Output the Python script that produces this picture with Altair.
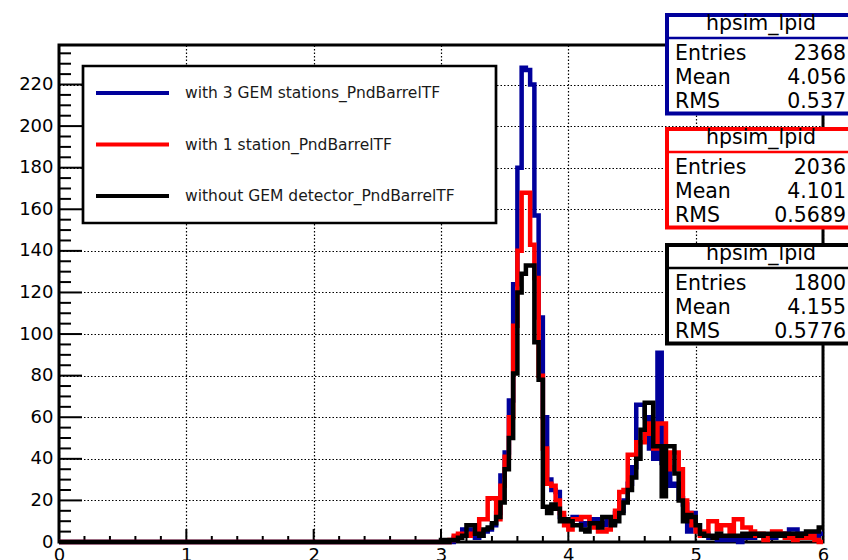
import altair as alt
import numpy as np
import pandas as pd

# Histogram binning: 180 bins of width 1/30 over [0, 6]; only bins from 3.0 up are filled
N_BINS = 180
BIN_WIDTH = 6.0 / N_BINS
FIRST_FILLED_BIN = 90

# Bin contents from x = 3.0 to x = 6.0 (90 bins each)
counts_3gem = [
    0, 0, 0, 2, 3, 6, 6, 5, 2, 3,
    5, 6, 8, 14, 32, 43, 68, 124, 180, 228,
    227, 220, 157, 108, 60, 30, 25, 24, 12, 10,
    8, 12, 11, 8, 9, 11, 11, 9, 8, 10,
    9, 14, 15, 20, 28, 36, 66, 66, 60, 45,
    40, 91, 38, 36, 27, 28, 21, 18, 5, 14,
    8, 4, 4, 2, 2, 1, 2, 1, 2, 1,
    0, 3, 2, 2, 3, 3, 2, 3, 2, 3,
    3, 4, 6, 6, 3, 4, 3, 4, 3, 4,
]
counts_1station = [
    0, 0, 1, 3, 4, 3, 3, 4, 5, 11,
    11, 21, 21, 11, 27, 41, 60, 104, 140, 168,
    168, 143, 127, 80, 45, 28, 27, 20, 14, 8,
    6, 11, 11, 12, 12, 9, 7, 5, 5, 6,
    11, 15, 24, 25, 42, 42, 48, 48, 52, 57,
    45, 57, 57, 35, 43, 43, 35, 20, 14, 8,
    5, 3, 5, 10, 10, 6, 8, 8, 4, 11,
    11, 7, 7, 5, 3, 4, 1, 3, 5, 5,
    4, 2, 3, 1, 3, 2, 2, 3, 1, 0,
]
counts_nogem = [
    1, 0, 1, 1, 2, 3, 8, 8, 4, 3,
    6, 7, 9, 12, 19, 35, 50, 81, 120, 129,
    133, 133, 96, 78, 17, 14, 18, 16, 10, 11,
    10, 8, 8, 6, 5, 9, 9, 7, 12, 12,
    8, 10, 14, 19, 25, 31, 40, 54, 67, 67,
    46, 46, 22, 46, 46, 33, 20, 10, 13, 12,
    8, 4, 3, 3, 2, 4, 3, 3, 3, 3,
    3, 4, 3, 4, 4, 3, 4, 4, 3, 4,
    3, 4, 4, 4, 3, 4, 5, 5, 5, 7,
]

series_labels = [
    "with 3 GEM stations_PndBarrelTF",
    "with 1 station_PndBarrelTF",
    "without GEM detector_PndBarrelTF",
]
series_colors = ["#00009b", "#ff0000", "#000000"]
series_counts = [counts_3gem, counts_1station, counts_nogem]

# Statistics boxes
stat_title = "hpsim_lpid"
stat_entries = ["2368", "2036", "1800"]
stat_means = ["4.056", "4.101", "4.155"]
stat_rms = ["0.537", "0.5689", "0.5776"]

x_major = [0, 1, 2, 3, 4, 5, 6]
y_major = [0, 20, 40, 60, 80, 100, 120, 140, 160, 180, 200, 220]
Y_MAX = 239

W, H = 764, 497
FONT = "DejaVu Sans"

x_scale = alt.Scale(domain=[0, 6], nice=False, zero=False)
y_scale = alt.Scale(domain=[0, Y_MAX], nice=False, zero=True)

x_axis = alt.Axis(
    values=x_major, grid=True, gridDash=[1.5, 2], gridColor="black", gridWidth=1.2,
    ticks=False, domain=False, labelFont=FONT, labelFontSize=18, labelColor="black",
    labelPadding=4, labelFlush=False, labelOverlap=False, title=None, format="d",
)
y_axis = alt.Axis(
    values=y_major, grid=True, gridDash=[1.5, 2], gridColor="black", gridWidth=1.2,
    ticks=False, domain=False, labelFont=FONT, labelFontSize=18, labelColor="black",
    labelPadding=6, labelOverlap=False, title=None, format="d",
)


def hist_frame(counts):
    full = [0] * FIRST_FILLED_BIN + list(counts)
    edges = np.arange(N_BINS + 1) * BIN_WIDTH
    return pd.DataFrame({"x": edges, "count": full + [full[-1]]})


one_row = pd.DataFrame({"k": [0]})

# Plot frame
frame = alt.Chart(one_row).mark_rect(filled=False, stroke="black", strokeWidth=3).encode(
    x=alt.value(0), x2=alt.value(W), y=alt.value(0), y2=alt.value(H)
)

# Inward tick marks
x_minor = [round(v, 2) for v in np.arange(0.2, 6.0, 0.2) if abs(v - round(v)) > 1e-6]
y_minor = [v for v in range(5, Y_MAX, 5) if v % 20 != 0]

def x_ticks(values, length):
    return alt.Chart(pd.DataFrame({"v": values})).mark_rule(color="black", strokeWidth=2).encode(
        x=alt.X("v:Q", scale=x_scale, axis=x_axis), y=alt.value(H), y2=alt.value(H - length)
    )

def y_ticks(values, length):
    return alt.Chart(pd.DataFrame({"v": values})).mark_rule(color="black", strokeWidth=2).encode(
        y=alt.Y("v:Q", scale=y_scale, axis=y_axis), x=alt.value(0), x2=alt.value(length)
    )

ticks = [
    x_ticks(x_major[1:-1], 13), x_ticks(x_minor, 6),
    y_ticks(y_major[1:], 23), y_ticks(y_minor, 12),
]

# Histogram outlines
hists = []
for counts, color in zip(series_counts, series_colors):
    hists.append(
        alt.Chart(hist_frame(counts)).mark_line(
            interpolate="step-after", color=color, strokeWidth=4.5, strokeJoin="miter"
        ).encode(
            x=alt.X("x:Q", scale=x_scale, axis=x_axis),
            y=alt.Y("count:Q", scale=y_scale, axis=y_axis),
        )
    )

# Legend box
legend = [
    alt.Chart(one_row).mark_rect(fill="white", stroke="black", strokeWidth=2.7).encode(
        x=alt.value(24), x2=alt.value(437), y=alt.value(21), y2=alt.value(178)
    )
]
for i, (label, color) in enumerate(zip(series_labels, series_colors)):
    ly = 48 + 51.5 * i
    legend.append(
        alt.Chart(one_row).mark_rule(color=color, strokeWidth=4).encode(
            x=alt.value(37), x2=alt.value(110), y=alt.value(ly)
        )
    )
    legend.append(
        alt.Chart(pd.DataFrame({"label": [label]})).mark_text(
            align="left", baseline="middle", font=FONT, fontSize=15.5, color="#1a1a1a"
        ).encode(x=alt.value(126), y=alt.value(ly), text="label:N")
    )

# Statistics boxes
stats = []
box_tops = [-32, 82, 198]
for top, color, ent, mean, rms in zip(box_tops, series_colors, stat_entries, stat_means, stat_rms):
    stats.append(
        alt.Chart(one_row).mark_rect(fill="white", stroke=color, strokeWidth=4).encode(
            x=alt.value(608), x2=alt.value(830), y=alt.value(top + 2), y2=alt.value(top + 100.5)
        )
    )
    stats.append(
        alt.Chart(one_row).mark_rule(color=color, strokeWidth=2.5).encode(
            x=alt.value(608), x2=alt.value(830), y=alt.value(top + 25)
        )
    )
    stats.append(
        alt.Chart(pd.DataFrame({"t": [stat_title]})).mark_text(
            align="center", baseline="alphabetic", font=FONT, fontSize=20.5, color="black"
        ).encode(x=alt.value(702), y=alt.value(top + 17), text="t:N")
    )
    for name, val, dy in zip(["Entries", "Mean", "RMS"], [ent, mean, rms], [47, 70.5, 94.5]):
        stats.append(
            alt.Chart(pd.DataFrame({"t": [name]})).mark_text(
                align="left", baseline="alphabetic", font=FONT, fontSize=20.5, color="black"
            ).encode(x=alt.value(616), y=alt.value(top + dy), text="t:N")
        )
        stats.append(
            alt.Chart(pd.DataFrame({"t": [val]})).mark_text(
                align="right", baseline="alphabetic", font=FONT, fontSize=20.5, color="black"
            ).encode(x=alt.value(787), y=alt.value(top + dy), text="t:N")
        )

chart = alt.layer(frame, *ticks, *hists, *legend, *stats).properties(
    width=W,
    height=H,
    padding={"left": 59, "top": 45, "right": 25, "bottom": 18},
    autosize=alt.AutoSizeParams(type="none"),
).configure_view(stroke=None).configure(background="white")

chart.save("out.html", embed_options={"renderer": "svg", "actions": False})
